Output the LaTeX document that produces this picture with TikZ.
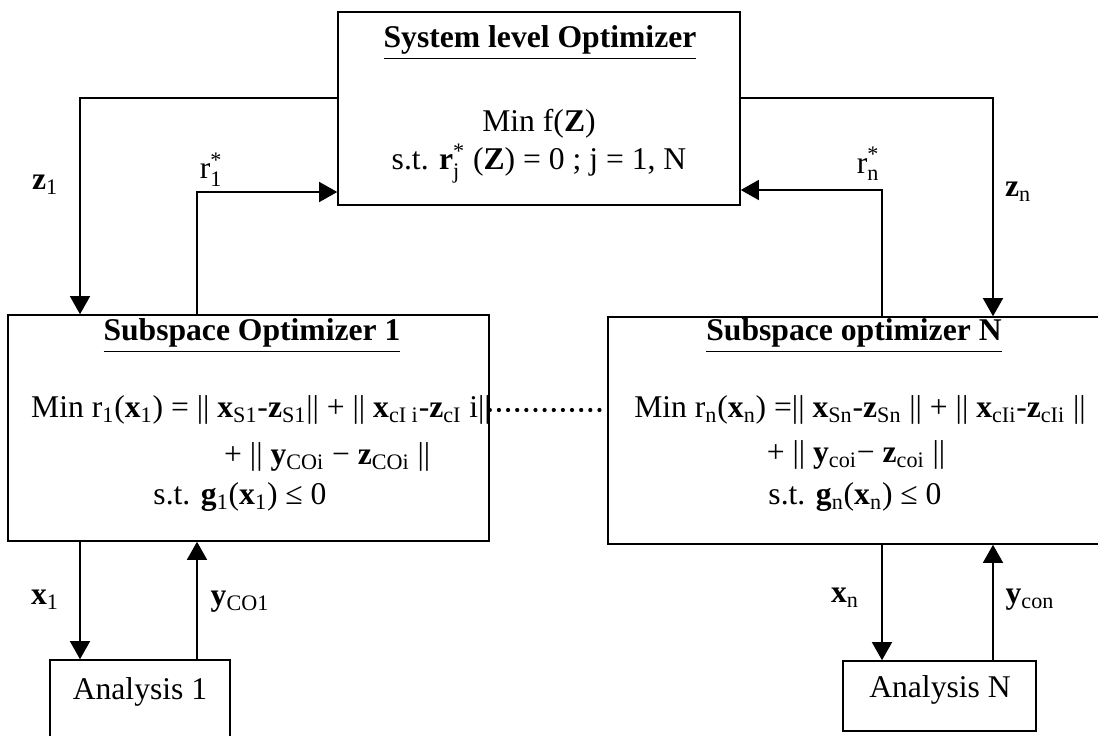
\documentclass[tikz,border=0pt]{standalone}
\usepackage{amsmath}
\usepackage{fontspec}
\setmainfont{Liberation Serif}
\usetikzlibrary{arrows.meta, positioning, calc}

\begin{document}
\begin{tikzpicture}[
		every node/.style={font=\fontsize{18}{22}\selectfont},
		box/.style={draw, line width=0.9pt, inner sep=0pt},
		title/.style={font=\fontsize{18}{22}\selectfont\bfseries},
		flow/.style={-{Triangle[length=3.6mm,width=4mm]}, line width=0.8pt},
		dotline/.style={line width=2.4pt, line cap=round, dash pattern=on 0pt off 5.2pt},
		]
		\useasboundingbox (0,0) rectangle (21.96,-14.72);
		% Boxes
		\node[box, minimum width=8.04cm, minimum height=3.86cm] at (10.78,-2.17) (sys) {};
		\node[box, minimum width=9.62cm, minimum height=4.52cm] at (4.97,-8.56) (sub1) {};
		\node[box, minimum width=9.92cm, minimum height=4.54cm] at (17.12,-8.61) (subN) {};
		\node[box, minimum width=3.6cm, minimum height=2.0cm] at (2.8,-14.2) (ana1) {};
		\node[box, minimum width=3.86cm, minimum height=1.4cm] at (18.79,-13.92) (anaN) {};
		
		% Box texts
		\node[title] at (10.80,-0.86) (systitle) {\underline{System level Optimizer}};
		\node[align=center] at (10.78,-2.92) (sysbody) {Min f(\textbf{Z})\\
			s.t. $\textbf{r}^{\text{*}}_{\text{j}}$ (\textbf{Z}) = 0 ; j = 1, N};
		
		\node[title] at (5.04,-6.72) (sub1title) {\underline{Subspace Optimizer 1}};
		\node[anchor=west] at (0.5,-8.2) (sub1min) {Min r\textsubscript{1}(\textbf{x}\textsubscript{1}) = || \textbf{x}\textsubscript{S1}-\textbf{z}\textsubscript{S1}|| + || \textbf{x}\textsubscript{cI i}-\textbf{z}\textsubscript{cI} i||};
		\node[anchor=west] at (4.36,-9.14) (sub1plus) {+ || \textbf{y}\textsubscript{COi} − \textbf{z}\textsubscript{COi} ||};
		\node at (4.8,-9.94) (sub1st) {s.t. \textbf{g}\textsubscript{1}(\textbf{x}\textsubscript{1}) ≤ 0};
		
		\node[title] at (17.08,-6.72) (subNtitle) {\underline{Subspace optimizer N}};
		\node at (17.2,-8.2) (subNmin) {Min r\textsubscript{n}(\textbf{x}\textsubscript{n}) =|| \textbf{x}\textsubscript{Sn}-\textbf{z}\textsubscript{Sn} || + || \textbf{x}\textsubscript{cIi}-\textbf{z}\textsubscript{cIi} ||};
		\node at (17.12,-9.1) (subNplus) {+ || \textbf{y}\textsubscript{coi}− \textbf{z}\textsubscript{coi} ||};
		\node at (17.1,-9.94) (subNst) {s.t. \textbf{g}\textsubscript{n}(\textbf{x}\textsubscript{n}) ≤ 0};
		
		\node at (2.8,-13.84) (ana1txt) {Analysis 1};
		\node at (18.8,-13.8) (anaNtxt) {Analysis N};
		
		% Turning points of the links
		\coordinate (z1turn) at (1.6,-1.96);
		\coordinate (r1turn) at (3.94,-3.84);
		\coordinate (znturn) at (19.86,-1.96);
		\coordinate (rnturn) at (17.64,-3.80);
		\coordinate (dots) at (0,-8.2);
		
		% Link labels
		\node at (0.9,-3.7) (z1lbl) {\textbf{z}\textsubscript{1}};
		\node at (4.22,-3.4) (r1lbl) {r$^{\text{*}}_{\text{1}}$};
		\node at (20.36,-3.84) (znlbl) {\textbf{z}\textsubscript{n}};
		\node at (17.36,-3.28) (rnlbl) {r$^{\text{*}}_{\text{n}}$};
		\node at (0.9,-12.0) (x1lbl) {\textbf{x}\textsubscript{1}};
		\node at (4.8,-12.04) (y1lbl) {\textbf{y}\textsubscript{CO1}};
		\node at (16.9,-11.96) (xnlbl) {\textbf{x}\textsubscript{n}};
		\node at (20.6,-12.0) (ynlbl) {\textbf{y}\textsubscript{con}};
		
		% draw arrows
		\draw[flow] (sys.west |- z1turn) -| (z1turn |- sub1.north);
		\draw[flow] (r1turn |- sub1.north) |- (sys.west |- r1turn);
		\draw[flow] (sys.east |- znturn) -| (znturn |- subN.north);
		\draw[flow] (rnturn |- subN.north) |- (sys.east |- rnturn);
		
		\draw[flow] (z1turn |- sub1.south) -- (z1turn |- ana1.north);
		\draw[flow] (r1turn |- ana1.north) -- (r1turn |- sub1.south);
		\draw[flow] (rnturn |- subN.south) -- (rnturn |- anaN.north);
		\draw[flow] (znturn |- anaN.north) -- (znturn |- subN.south);
		
		\draw[dotline] (sub1.east |- dots) -- ([xshift=-1mm]subN.west |- dots);
	\end{tikzpicture}
\end{document}
